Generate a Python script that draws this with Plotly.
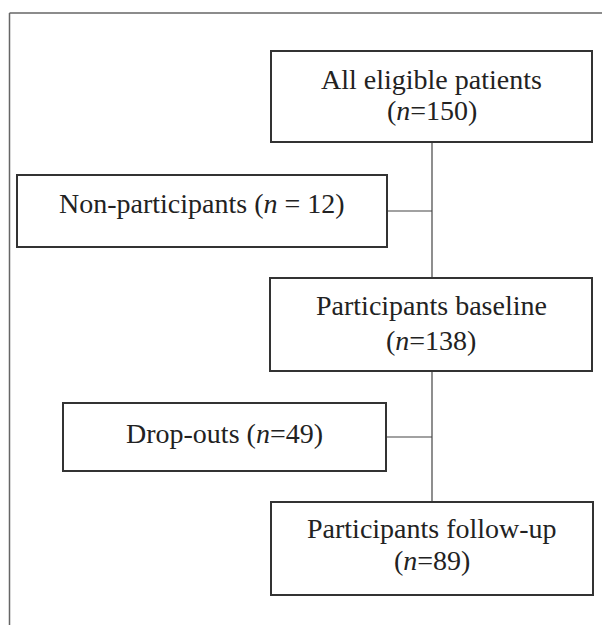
import plotly.graph_objects as go

# ---- data ----
stage_labels = ["All eligible patients", "Non-participants", "Participants baseline",
                "Drop-outs", "Participants follow-up"]
stage_counts = [150, 12, 138, 49, 89]
stage_inline = [False, True, False, True, False]   # n printed on same line
stage_spaced = [False, True, False, False, False]  # "n = 12" style

# ---- layout (pixel geometry) ----
W, H = 602, 625
boxes = [  # x0, x1, y0, y1
    (271, 592, 51, 142),
    (17, 387, 175, 247),
    (270, 592, 278, 371),
    (63, 386, 403, 471),
    (271, 593, 502, 595),
]
text_y = [(79, 110), (203,), (305, 340), (433,), (528, 560)]
spine_x = 432
connectors_y = [211, 437]

FONT = dict(family="Liberation Serif, Times New Roman, serif", size=28, color="#222222")

fig = go.Figure()
shapes = []
# outer frame (open at right/bottom)
shapes.append(dict(type="line", x0=9.5, x1=W, y0=13, y1=13, line=dict(color="#666666", width=1.5)))
shapes.append(dict(type="line", x0=9.5, x1=9.5, y0=13, y1=H, line=dict(color="#666666", width=1.5)))
# spine
shapes.append(dict(type="line", x0=spine_x, x1=spine_x, y0=boxes[0][3], y1=boxes[4][2],
                   line=dict(color="#444444", width=1.2), layer="below"))
# side connectors
for i, cy in zip([1, 3], connectors_y):
    shapes.append(dict(type="line", x0=boxes[i][1], x1=spine_x, y0=cy, y1=cy,
                       line=dict(color="#444444", width=1.2)))
annotations = []
for i, (x0, x1, y0, y1) in enumerate(boxes):
    shapes.append(dict(type="rect", x0=x0, x1=x1, y0=y0, y1=y1, fillcolor="white",
                       line=dict(color="#333333", width=2)))
    n = stage_counts[i]
    ntxt = f"(<i>n</i> = {n})" if stage_spaced[i] else f"(<i>n</i>={n})"
    if stage_inline[i]:
        lines = [f"{stage_labels[i]} {ntxt}"]
    else:
        lines = [stage_labels[i], ntxt]
    cx = (x0 + x1) / 2
    for ln, ty in zip(lines, text_y[i]):
        annotations.append(dict(x=cx, y=ty, xref="x", yref="y", text=ln, showarrow=False,
                                font=FONT, xanchor="center", yanchor="middle"))

fig.update_layout(
    width=W, height=H, margin=dict(l=0, r=0, t=0, b=0),
    paper_bgcolor="white", plot_bgcolor="white",
    xaxis=dict(range=[0, W], visible=False, fixedrange=True),
    yaxis=dict(range=[H, 0], visible=False, fixedrange=True),
    shapes=shapes, annotations=annotations, showlegend=False,
)
fig.write_html("out.html", config={"displayModeBar": False},
               post_script="document.body.style.margin='0';document.body.style.overflow='hidden';")
